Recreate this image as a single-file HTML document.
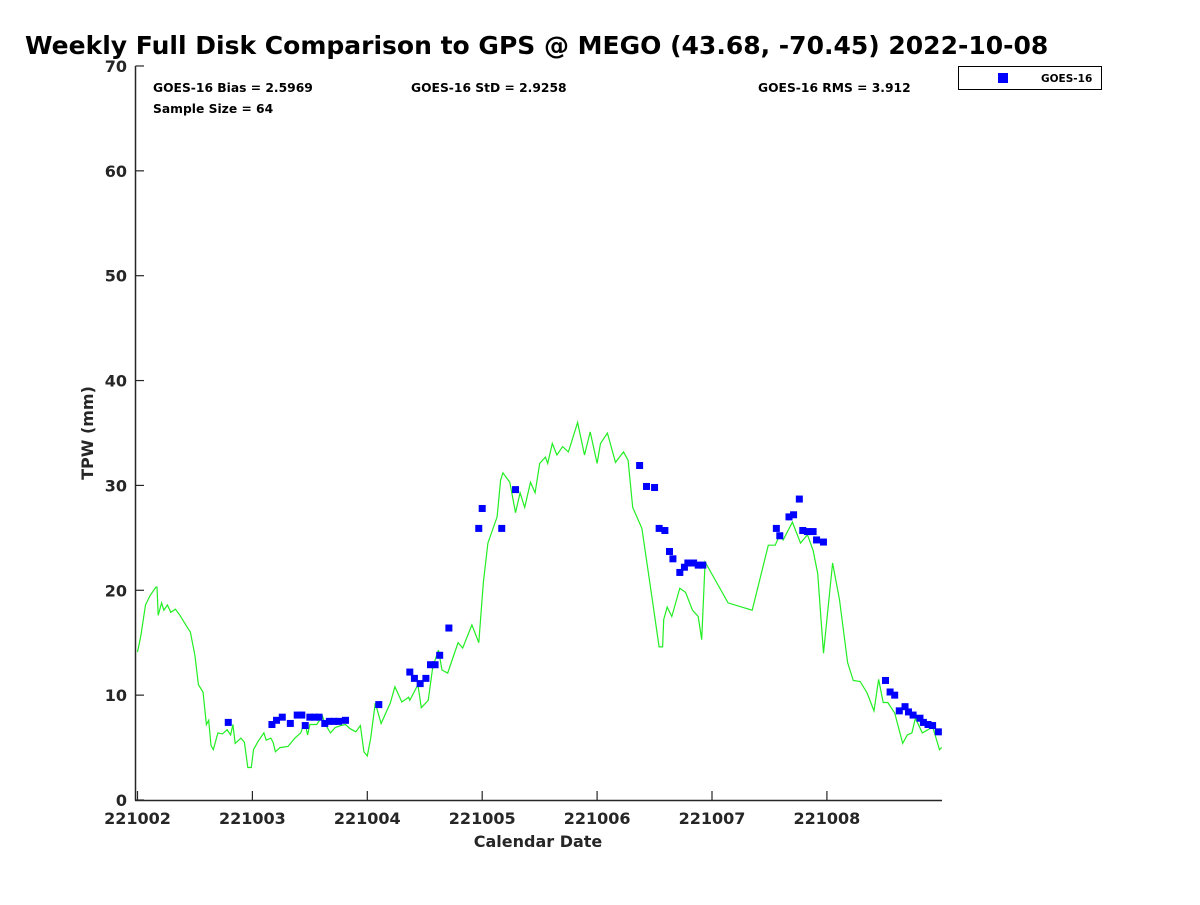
<!DOCTYPE html>
<html><head><meta charset="utf-8"><style>
body{margin:0;background:#fff;width:1200px;height:900px;overflow:hidden;font-family:"Liberation Sans","DejaVu Sans",sans-serif}
svg text{font-family:"DejaVu Sans","Liberation Sans",sans-serif;font-weight:bold;fill:#262626}
</style></head><body>
<svg id="chart" width="1200" height="900" xmlns="http://www.w3.org/2000/svg">
<text x="25" y="54" font-size="25" style="fill:#000">Weekly Full Disk Comparison to GPS @ MEGO (43.68, -70.45) 2022-10-08</text>
<text x="153" y="92" font-size="12.3" style="fill:#000">GOES-16 Bias = 2.5969</text>
<text x="411" y="92" font-size="12.3" style="fill:#000">GOES-16 StD = 2.9258</text>
<text x="758" y="92" font-size="12.3" style="fill:#000">GOES-16 RMS = 3.912</text>
<text x="153" y="113" font-size="12.3" style="fill:#000">Sample Size = 64</text>
<g>
<rect x="958.5" y="66.5" width="143" height="23" fill="#fff" stroke="#000" stroke-width="1"/>
<rect x="998" y="73" width="10" height="10" fill="#0000ff"/>
<text x="1041" y="82" font-size="10.5" style="fill:#000">GOES-16</text>
</g>
<g id="axes"></g>
<g id="marks"></g>
<text x="538" y="847" font-size="16" text-anchor="middle">Calendar Date</text>
<text x="0" y="0" font-size="16" text-anchor="middle" transform="translate(93,433) rotate(-90)">TPW (mm)</text>
</svg>
<script>
const xTickLabels=["221002","221003","221004","221005","221006","221007","221008"];
const yTickLabels=["0","10","20","30","40","50","60","70"];
const gpsDays=[0.00,0.03,0.07,0.11,0.16,0.17,0.18,0.21,0.23,0.26,0.29,0.33,0.37,0.42,0.46,0.50,0.53,0.57,0.60,0.62,0.64,0.66,0.70,0.74,0.78,0.81,0.83,0.85,0.90,0.93,0.96,0.99,1.01,1.05,1.10,1.12,1.16,1.18,1.20,1.24,1.31,1.37,1.42,1.44,1.46,1.48,1.50,1.56,1.61,1.63,1.68,1.72,1.77,1.81,1.85,1.90,1.94,1.97,2.00,2.03,2.07,2.12,2.20,2.24,2.30,2.36,2.37,2.44,2.47,2.53,2.57,2.62,2.65,2.70,2.74,2.79,2.83,2.91,2.97,3.01,3.05,3.13,3.16,3.18,3.24,3.29,3.33,3.37,3.42,3.46,3.50,3.55,3.57,3.61,3.65,3.70,3.75,3.83,3.89,3.94,4.00,4.03,4.09,4.16,4.23,4.27,4.31,4.39,4.48,4.54,4.57,4.58,4.61,4.65,4.72,4.77,4.83,4.88,4.91,4.94,5.14,5.35,5.49,5.55,5.59,5.62,5.70,5.77,5.83,5.88,5.92,5.97,6.05,6.11,6.18,6.23,6.29,6.35,6.41,6.45,6.49,6.53,6.59,6.66,6.70,6.74,6.77,6.83,6.88,6.92,6.98,7.00];
const gpsTPW=[14.1,15.7,18.6,19.5,20.3,20.3,17.6,18.8,18.1,18.6,17.9,18.2,17.6,16.7,16.0,13.8,11.0,10.3,7.2,7.6,5.2,4.8,6.4,6.3,6.7,6.2,7.2,5.4,5.9,5.5,3.1,3.1,4.8,5.6,6.4,5.7,5.9,5.5,4.6,5.0,5.1,5.9,6.4,7.0,7.2,6.2,7.2,7.2,8.0,7.3,6.4,6.9,7.1,7.2,6.8,6.5,7.1,4.6,4.2,5.9,9.25,7.3,9.25,10.8,9.35,9.8,9.5,11.0,8.8,9.5,12.7,14.3,12.4,12.1,13.4,15.0,14.5,16.7,15.0,20.7,24.5,27.0,30.5,31.2,30.3,27.4,29.3,27.9,30.3,29.3,32.1,32.7,32.1,34.0,32.9,33.7,33.2,36.0,32.9,35.1,32.1,34.0,35.0,32.2,33.2,32.4,27.9,25.9,19.1,14.6,14.6,17.2,18.4,17.5,20.2,19.8,18.1,17.5,15.3,22.7,18.8,18.1,24.3,24.3,25.3,24.8,26.5,24.5,25.3,23.8,21.6,14.0,22.6,19.1,13.1,11.4,11.3,10.2,8.5,11.5,9.3,9.3,8.3,5.4,6.2,6.4,7.8,6.4,6.7,7.0,4.8,5.0];
const goesDays=[0.79,1.17,1.21,1.26,1.33,1.39,1.43,1.46,1.50,1.54,1.58,1.63,1.67,1.71,1.75,1.81,2.10,2.37,2.41,2.46,2.51,2.55,2.59,2.63,2.71,2.97,3.00,3.17,3.29,4.37,4.43,4.50,4.54,4.59,4.63,4.66,4.72,4.76,4.79,4.84,4.88,4.92,5.56,5.59,5.67,5.71,5.76,5.79,5.83,5.88,5.91,5.97,6.51,6.55,6.59,6.63,6.68,6.71,6.75,6.81,6.84,6.88,6.92,6.97];
const goesTPW=[7.4,7.2,7.6,7.9,7.3,8.1,8.1,7.1,7.9,7.9,7.9,7.3,7.5,7.5,7.5,7.6,9.1,12.2,11.6,11.1,11.6,12.9,12.9,13.8,16.4,25.9,27.8,25.9,29.6,31.9,29.9,29.8,25.9,25.7,23.7,23.0,21.7,22.2,22.6,22.6,22.4,22.4,25.9,25.2,27.0,27.2,28.7,25.7,25.6,25.6,24.8,24.6,11.4,10.3,10.0,8.5,8.9,8.4,8.1,7.8,7.4,7.2,7.1,6.5];
const NS="http://www.w3.org/2000/svg";
const X0=137.5,DAY=114.9,Y0=800,YU=10.486;
function sx(d){return X0+d*DAY;}
function sy(v){return Y0-v*YU;}
function mk(t,a,p){const e=document.createElementNS(NS,t);for(const k in a)e.setAttribute(k,a[k]);p.appendChild(e);return e;}
const axes=document.getElementById('axes'),marks=document.getElementById('marks');
const ya=mk('line',{x1:135.5,y1:66,x2:135.5,y2:800.5,stroke:'#262626','stroke-width':1.5},axes);


const xa=mk('line',{x1:135,y1:800.5,x2:942,y2:800.5,stroke:'#262626','stroke-width':1.5},axes);


yTickLabels.forEach((l,i)=>{const v=+l;
 const t=mk('line',{x1:135.5,y1:sy(v),x2:144,y2:sy(v),stroke:'#262626','stroke-width':1.2},axes);
 
 
 const tx=mk('text',{x:127,y:sy(v)+6,'font-size':16,'text-anchor':'end'},axes);
 
 
 tx.textContent=l;});
xTickLabels.forEach((l,i)=>{
 const t=mk('line',{x1:sx(i),y1:800,x2:sx(i),y2:791,stroke:'#262626','stroke-width':1.2},axes);
 
 
 const tx=mk('text',{x:sx(i),y:824,'font-size':16,'text-anchor':'middle'},axes);
 
 
 tx.textContent=l;});
const pts=gpsDays.map((d,i)=>sx(d).toFixed(1)+','+sy(gpsTPW[i]).toFixed(1)).join(' ');
const pl=mk('polyline',{points:pts,fill:'none',stroke:'#22ee22','stroke-width':1.2},marks);


goesDays.forEach((d,i)=>{
 const r=mk('rect',{x:sx(d)-3.5,y:sy(goesTPW[i])-3.5,width:7,height:7,fill:'#0000ff'},marks);
 
 });
</script>
</body></html>
